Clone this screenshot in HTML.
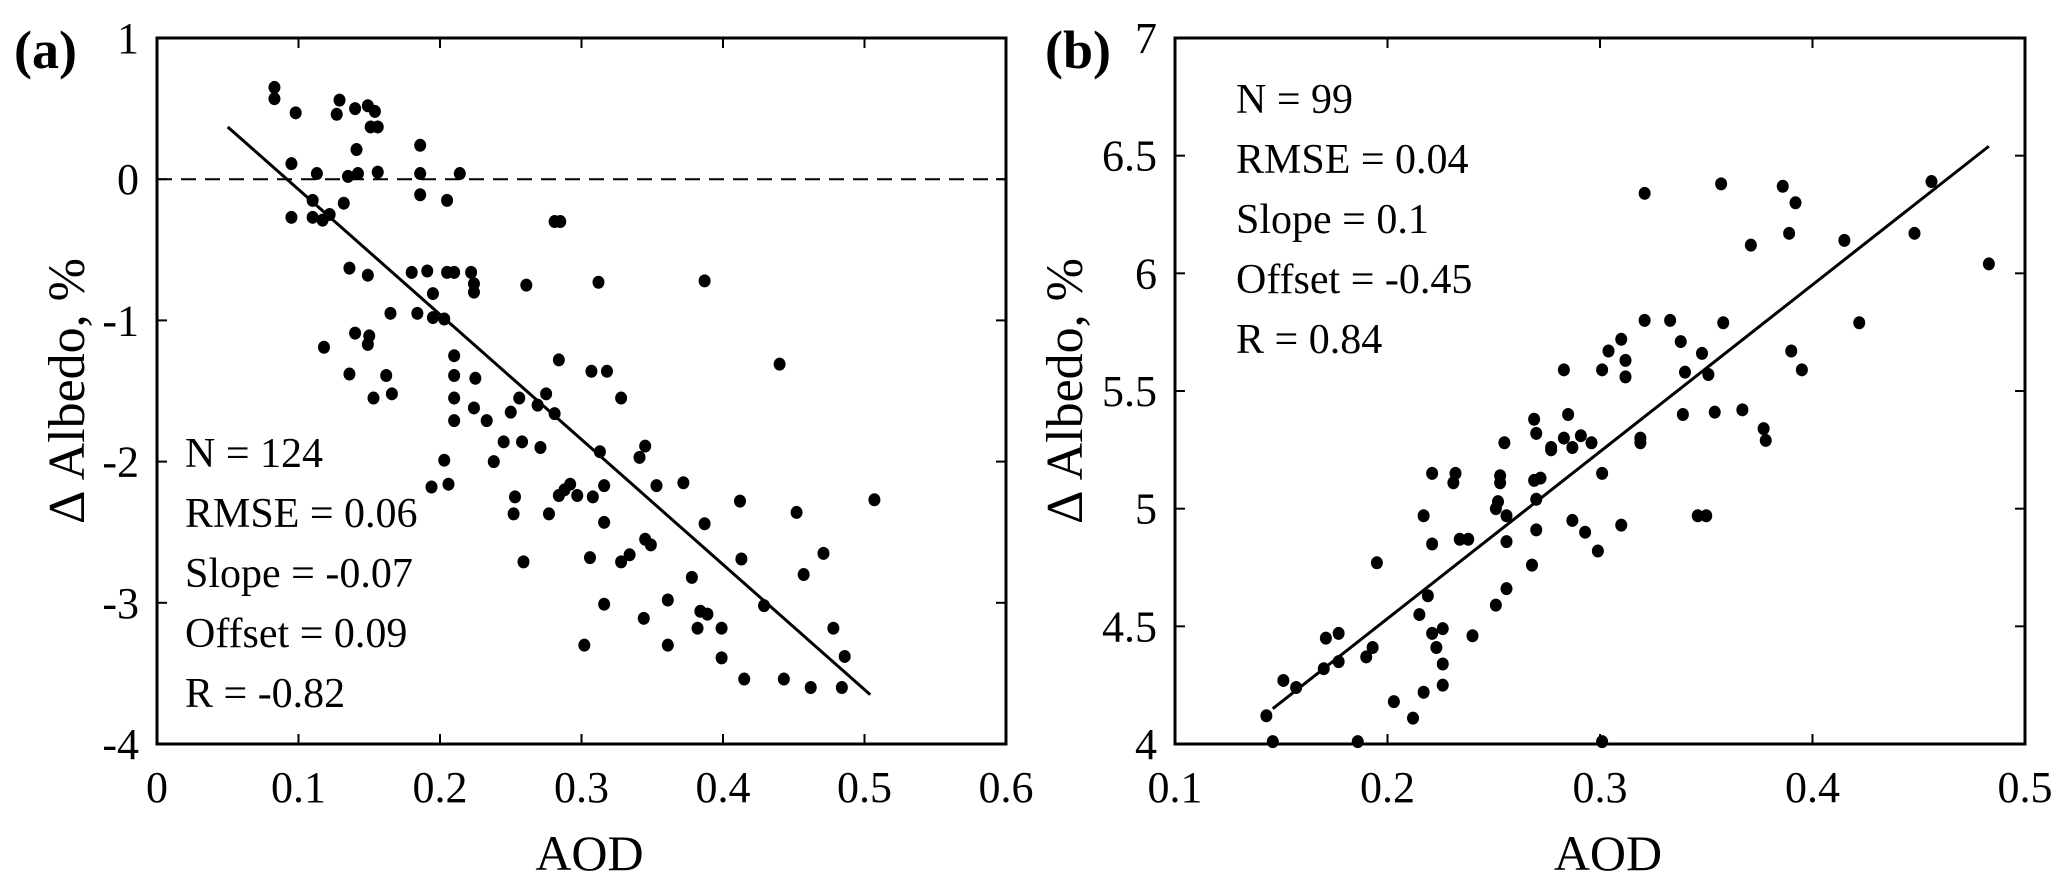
<!DOCTYPE html>
<html><head><meta charset="utf-8"><style>
html,body{margin:0;padding:0;background:#fff;}
svg{display:block;font-family:"Liberation Serif",serif;}
</style></head><body>
<svg id="fig" width="2067" height="884" viewBox="0 0 2067 884" xmlns="http://www.w3.org/2000/svg"></svg>
<script>
// Panel (a) data
const aX = [0.083,0.083,0.098,0.129,0.127,0.140,0.149,0.154,0.151,0.156,0.141,0.095,0.113,0.135,0.142,0.156,0.186,0.186,0.214,0.186,0.205,0.110,0.132,0.095,0.110,0.117,0.122,0.281,0.285,0.136,0.149,0.180,0.191,0.205,0.210,0.222,0.224,0.224,0.195,0.261,0.312,0.387,0.165,0.184,0.195,0.203,0.140,0.150,0.149,0.118,0.210,0.284,0.440,0.136,0.162,0.210,0.225,0.307,0.318,0.153,0.166,0.210,0.256,0.275,0.269,0.328,0.224,0.250,0.281,0.210,0.233,0.245,0.258,0.271,0.313,0.345,0.341,0.203,0.238,0.194,0.206,0.292,0.288,0.284,0.297,0.316,0.353,0.372,0.253,0.308,0.252,0.277,0.316,0.387,0.412,0.452,0.345,0.349,0.334,0.328,0.306,0.259,0.413,0.378,0.507,0.471,0.457,0.316,0.361,0.344,0.384,0.389,0.382,0.399,0.429,0.478,0.486,0.302,0.361,0.399,0.415,0.443,0.462,0.484];
const aY = [0.65,0.57,0.47,0.56,0.46,0.50,0.52,0.48,0.37,0.37,0.21,0.11,0.04,0.02,0.04,0.05,0.24,0.04,0.04,-0.11,-0.15,-0.15,-0.17,-0.27,-0.27,-0.29,-0.25,-0.30,-0.30,-0.63,-0.68,-0.66,-0.65,-0.66,-0.66,-0.66,-0.74,-0.80,-0.81,-0.75,-0.73,-0.72,-0.95,-0.95,-0.98,-0.99,-1.09,-1.11,-1.17,-1.19,-1.25,-1.28,-1.31,-1.38,-1.39,-1.39,-1.41,-1.36,-1.36,-1.55,-1.52,-1.55,-1.55,-1.52,-1.60,-1.55,-1.62,-1.65,-1.66,-1.71,-1.71,-1.86,-1.86,-1.90,-1.93,-1.89,-1.97,-1.99,-2.00,-2.18,-2.16,-2.16,-2.20,-2.24,-2.24,-2.17,-2.17,-2.15,-2.25,-2.25,-2.37,-2.37,-2.43,-2.44,-2.28,-2.36,-2.55,-2.59,-2.66,-2.71,-2.68,-2.71,-2.69,-2.82,-2.27,-2.65,-2.80,-3.01,-2.98,-3.11,-3.06,-3.08,-3.18,-3.18,-3.02,-3.18,-3.38,-3.30,-3.30,-3.39,-3.54,-3.54,-3.60,-3.60];
const aFitX = [0.05,0.504];
const aFitY = [0.37,-3.65];
const aXTicks = [0,0.1,0.2,0.3,0.4,0.5,0.6];
const aXTickLabels = ["0","0.1","0.2","0.3","0.4","0.5","0.6"];
const aYTicks = [1,0,-1,-2,-3,-4];
const aYTickLabels = ["1","0","-1","-2","-3","-4"];
const aStats = ["N = 124","RMSE = 0.06","Slope = -0.07","Offset = 0.09","R = -0.82"];
// Panel (b) data
const bX = [0.321,0.357,0.386,0.392,0.456,0.371,0.389,0.415,0.448,0.483,0.321,0.333,0.358,0.422,0.310,0.304,0.338,0.348,0.312,0.390,0.283,0.301,0.312,0.340,0.351,0.395,0.269,0.285,0.339,0.354,0.367,0.377,0.378,0.255,0.270,0.319,0.319,0.277,0.283,0.287,0.291,0.296,0.221,0.232,0.231,0.253,0.253,0.269,0.272,0.301,0.252,0.251,0.270,0.256,0.217,0.287,0.293,0.310,0.346,0.350,0.270,0.234,0.238,0.221,0.256,0.299,0.195,0.268,0.256,0.251,0.219,0.215,0.221,0.226,0.240,0.171,0.177,0.223,0.193,0.190,0.177,0.170,0.226,0.151,0.157,0.226,0.217,0.203,0.212,0.143,0.146,0.186,0.301,0.277];
const bY = [6.34,6.38,6.37,6.30,6.39,6.12,6.17,6.14,6.17,6.04,5.80,5.80,5.79,5.79,5.72,5.67,5.71,5.66,5.63,5.67,5.59,5.59,5.56,5.58,5.57,5.59,5.38,5.40,5.40,5.41,5.42,5.34,5.29,5.28,5.32,5.30,5.28,5.26,5.30,5.26,5.31,5.28,5.15,5.15,5.11,5.14,5.11,5.12,5.13,5.15,5.03,5.00,5.04,4.97,4.97,4.95,4.90,4.93,4.97,4.97,4.91,4.87,4.87,4.85,4.86,4.82,4.77,4.76,4.66,4.59,4.63,4.55,4.47,4.49,4.46,4.45,4.47,4.41,4.41,4.37,4.35,4.32,4.34,4.27,4.24,4.25,4.22,4.18,4.11,4.12,4.01,4.01,4.01,5.25];
const bFitX = [0.146,0.483];
const bFitY = [4.15,6.54];
const bXTicks = [0.1,0.2,0.3,0.4,0.5];
const bXTickLabels = ["0.1","0.2","0.3","0.4","0.5"];
const bYTicks = [7,6.5,6,5.5,5,4.5,4];
const bYTickLabels = ["7","6.5","6","5.5","5","4.5","4"];
const bStats = ["N = 99","RMSE = 0.04","Slope = 0.1","Offset = -0.45","R = 0.84"];

const NS = "http://www.w3.org/2000/svg";
const svg = document.getElementById('fig');
function mk(tag, attrs, parent){
  const e = document.createElementNS(NS, tag);
  for (const k in attrs) e.setAttribute(k, attrs[k]);
  (parent||svg).appendChild(e);
  return e;
}
function panel(o){
  const g = mk('g', {});
  
  
  const sx = v => o.L + (v - o.x0) / (o.x1 - o.x0) * (o.R - o.L);
  const sy = v => o.B - (v - o.y0) / (o.y1 - o.y0) * (o.B - o.T);
  o.xt.forEach((v, i) => {
    const x = sx(v);
    const t1 = mk('line', {x1:x, y1:o.B, x2:x, y2:o.B-10, stroke:'#000','stroke-width':2}, g);
    
    
    mk('line', {x1:x, y1:o.T, x2:x, y2:o.T+10, stroke:'#000','stroke-width':2}, g);
    const t = mk('text', {x:x, y:802, 'font-size':44, 'text-anchor':'middle'}, g);
    t.textContent = o.xtl[i];
    
    
  });
  o.yt.forEach((v, i) => {
    const y = sy(v);
    const t1 = mk('line', {x1:o.L, y1:y, x2:o.L+10, y2:y, stroke:'#000','stroke-width':2}, g);
    
    
    mk('line', {x1:o.R, y1:y, x2:o.R-10, y2:y, stroke:'#000','stroke-width':2}, g);
    const t = mk('text', {x:o.L-18, y:y+15, 'font-size':44, 'text-anchor':'end'}, g);
    t.textContent = o.ytl[i];
    
    
  });
  if (o.zero) {
    const z = mk('line', {x1:o.L, y1:sy(0), x2:o.R, y2:sy(0), stroke:'#000','stroke-width':2,'stroke-dasharray':'15 9'}, g);
    
    
  }
  const fit = mk('line', {x1:sx(o.fx[0]), y1:sy(o.fy[0]), x2:sx(o.fx[1]), y2:sy(o.fy[1]), stroke:'#000','stroke-width':3}, g);
  
  
  o.px.forEach((v, i) => {
    const c = mk('ellipse', {cx:sx(v), cy:sy(o.py[i]), rx:6, ry:6.5, fill:'#000'}, g);
    
    
  });
  const frame = mk('rect', {x:o.L, y:o.T, width:o.R-o.L, height:o.B-o.T, fill:'none', stroke:'#000','stroke-width':3}, g);
  
  
  o.stats.forEach((s, i) => {
    const t = mk('text', {x:o.sx, y:o.sy + i*60, 'font-size':42}, g);
    t.textContent = s;
    
    
  });
  const xt = mk('text', {x:(o.L+o.R)/2 + 8, y:870, 'font-size':50, 'text-anchor':'middle'}, g);
  xt.textContent = 'AOD';
  
  
  const yt = mk('text', {x:0, y:0, 'font-size':52, 'text-anchor':'middle', transform:'translate('+o.ytx+',391) rotate(-90)'}, g);
  yt.textContent = 'Δ Albedo, %';
  
  
  const pl = mk('text', {x:o.plx, y:68, 'font-size':54, 'font-weight':'bold'}, g);
  pl.textContent = o.label;
  
  
}
panel({name:'panel-a', L:157, R:1006, T:38, B:744, x0:0, x1:0.6, y0:-4, y1:1,
  xt:aXTicks, xtl:aXTickLabels, yt:aYTicks, ytl:aYTickLabels, zero:true,
  fx:aFitX, fy:aFitY, px:aX, py:aY, stats:aStats, sx:185, sy:467, ytx:84, plx:14, label:'(a)'});
panel({name:'panel-b', L:1175, R:2025, T:38, B:744, x0:0.1, x1:0.5, y0:4, y1:7,
  xt:bXTicks, xtl:bXTickLabels, yt:bYTicks, ytl:bYTickLabels, zero:false,
  fx:bFitX, fy:bFitY, px:bX, py:bY, stats:bStats, sx:1236, sy:113, ytx:1082, plx:1045, label:'(b)'});
</script>
</body></html>
